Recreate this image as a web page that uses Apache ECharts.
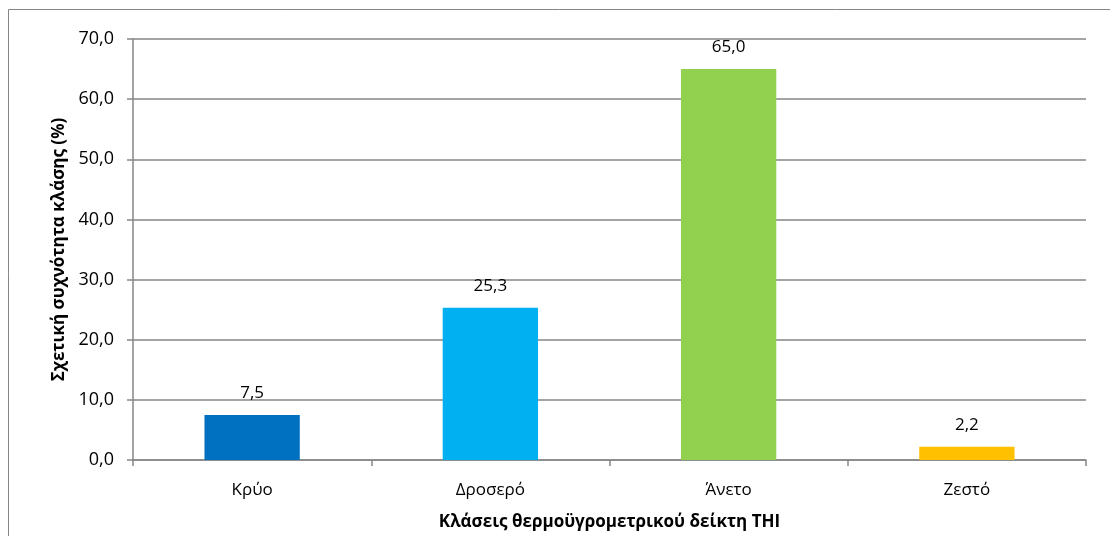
<!DOCTYPE html>
<html>
<head>
<meta charset="utf-8">
<script src="https://cdn.jsdelivr.net/npm/echarts@6/dist/echarts.min.js"></script>
<style>
  html, body { margin: 0; padding: 0; background: #fff; }
  #chart { width: 1110px; height: 536px; }
</style>
</head>
<body>
<div id="chart"></div>
<script>
// κατηγορίες και τιμές (%)
const categories = ['Κρύο', 'Δροσερό', 'Άνετο', 'Ζεστό'];
const values = [7.5, 25.3, 65.0, 2.2];
const barColors = ['#0070C0', '#00B0F0', '#92D050', '#FFC000'];

const fmt = v => v.toFixed(1).replace('.', ',');
const font = '"Open Sans", "Noto Sans", sans-serif';

const myChart = echarts.init(document.getElementById('chart'));
const option = {
  animation: false,
  graphic: [{
    type: 'rect',
    shape: { x: 8.5, y: 9.5, width: 1200, height: 600 },
    style: { fill: 'none', stroke: '#868686', lineWidth: 1 }
  }],
  grid: { left: 133, right: 24, top: 39, bottom: 76 },
  xAxis: {
    type: 'category',
    data: categories,
    name: 'Κλάσεις θερμοϋγρομετρικού δείκτη THI',
    nameLocation: 'middle',
    nameGap: 54,
    nameTextStyle: { fontFamily: font, fontSize: 17, fontWeight: 'bold', color: '#000' },
    axisLine: { lineStyle: { color: '#868686', width: 1.5 } },
    axisTick: { show: true, length: 6, lineStyle: { color: '#868686', width: 1.5 } },
    axisLabel: { fontFamily: font, fontSize: 17, color: '#000', margin: 22 }
  },
  yAxis: {
    type: 'value',
    min: 0, max: 70, interval: 10,
    name: 'Σχετική συχνότητα κλάσης (%)',
    nameLocation: 'middle',
    nameGap: 64,
    nameTextStyle: { fontFamily: font, fontSize: 17, fontWeight: 'bold', color: '#000' },
    axisLine: { show: true, lineStyle: { color: '#868686', width: 1.5 } },
    axisTick: { show: true, length: 6, lineStyle: { color: '#868686', width: 1.5 } },
    axisLabel: { fontFamily: font, fontSize: 18, color: '#000', margin: 19, formatter: v => fmt(v) },
    splitLine: { lineStyle: { color: '#868686', width: 1.5 } }
  },
  series: [{
    type: 'bar',
    barWidth: '40%',
    data: values.map((v, i) => ({ value: v, itemStyle: { color: barColors[i] } })),
    label: {
      show: true,
      position: 'top',
      distance: 13,
      fontFamily: font,
      fontSize: 17,
      color: '#000',
      formatter: p => fmt(p.value)
    }
  }]
};
option && myChart.setOption(option);
</script>
</body>
</html>
